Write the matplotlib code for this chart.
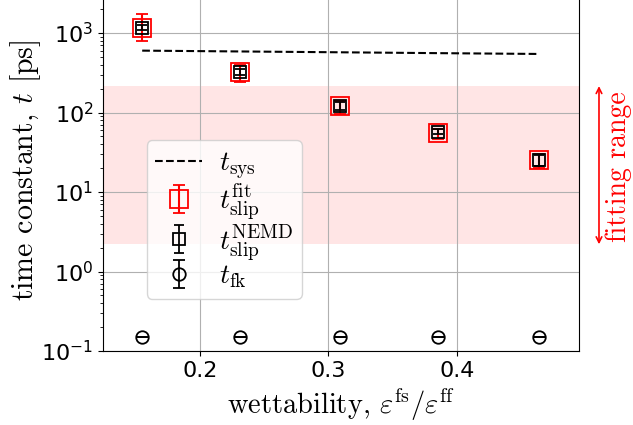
import matplotlib
matplotlib.use("Agg")
import matplotlib.pyplot as plt
import matplotlib.transforms as mtransforms
import numpy as np

plt.rcParams["mathtext.fontset"] = "cm"

# wettability of each system
wettability = [0.155, 0.231, 0.309, 0.385, 0.464]

# system time scale
t_sys = [600, 586, 572, 558, 545]

# slip time from the fit, with lower / upper bounds
t_slip_fit = [1170, 320, 120, 56, 25]
t_slip_fit_lo = [800, 240, 95, 47, 20]
t_slip_fit_hi = [1750, 400, 140, 62, 30]

# slip time from NEMD, with lower / upper bounds
t_slip_nemd = [1170, 320, 120, 57, 25]
t_slip_nemd_lo = [1080, 300, 108, 54, 21]
t_slip_nemd_hi = [1260, 350, 135, 62, 29]

# friction kernel time
t_fk = [0.15, 0.15, 0.15, 0.15, 0.15]
t_fk_err = [0.001, 0.001, 0.001, 0.001, 0.001]

fit_range = (2.2, 215)


def asym_err(center, lo, hi):
    c = np.array(center, dtype=float)
    return np.array([c - np.array(lo), np.array(hi) - c])


fig = plt.figure(figsize=(6.33, 4.25), dpi=100)
ax = fig.add_axes([103 / 633, 74 / 425, 476 / 633, 354 / 425])

ax.axhspan(*fit_range, color="red", alpha=0.1, lw=0)

ax.plot(wettability, t_sys, "--", color="k", lw=1.5, label=r"$t_{\rm sys}$")
ax.errorbar(
    wettability, t_slip_fit, yerr=asym_err(t_slip_fit, t_slip_fit_lo, t_slip_fit_hi),
    fmt="s", ms=13, mfc="none", mec="red", mew=1.3, ecolor="red",
    elinewidth=1.5, capsize=4, capthick=1.5, label=r"$t_{\rm slip}^{\rm fit}$",
)
ax.errorbar(
    wettability, t_slip_nemd, yerr=asym_err(t_slip_nemd, t_slip_nemd_lo, t_slip_nemd_hi),
    fmt="s", ms=9, mfc="none", mec="k", mew=1.3, ecolor="k",
    elinewidth=1.3, capsize=3.5, capthick=1.3, label=r"$t_{\rm slip}^{\rm NEMD}$",
)
ax.errorbar(
    wettability, t_fk, yerr=t_fk_err,
    fmt="o", ms=9, mfc="none", mec="k", mew=1.3, ecolor="k",
    elinewidth=1.3, capsize=4, capthick=1.3, label=r"$t_{\rm fk}$",
)

ax.set_yscale("log")
ax.set_ylim(0.1, 10 ** (-1 + 354 / 79.5))
ax.set_xlim(0.1245, 0.495)
ax.set_xticks([0.2, 0.3, 0.4])
ax.tick_params(labelsize=16)
ax.grid(True)

ax.set_xlabel(r"wettability, $\varepsilon^{\rm fs}/\varepsilon^{\rm ff}$",
              fontsize=20.5, family="cmr10")
ax.xaxis.set_label_coords(0.5, -0.1)
ax.set_ylabel(r"time constant, $t$ [ps]", fontsize=21.5, family="cmr10")
ax.yaxis.set_label_coords(-0.125, 0.51)

ax.legend(loc="upper left", bbox_to_anchor=(0.092, 0.596), borderaxespad=0,
          fontsize=20, handlelength=1.7, borderpad=0.3, labelspacing=0.0,
          handletextpad=0.6)

# arrow and label marking the fitting range
trans = mtransforms.blended_transform_factory(ax.transAxes, ax.transData)
ax.annotate("", xy=(1.042, fit_range[1]), xytext=(1.042, fit_range[0]),
            xycoords=trans, textcoords=trans, annotation_clip=False,
            arrowprops=dict(arrowstyle="<->", color="red", lw=1.2,
                            shrinkA=0, shrinkB=0))
fig.text(619 / 633, 1 - 167 / 425, "fitting range", rotation=90, color="red",
         fontsize=20, family="cmr10", ha="center", va="center")

fig.savefig("out.png", dpi=100)
